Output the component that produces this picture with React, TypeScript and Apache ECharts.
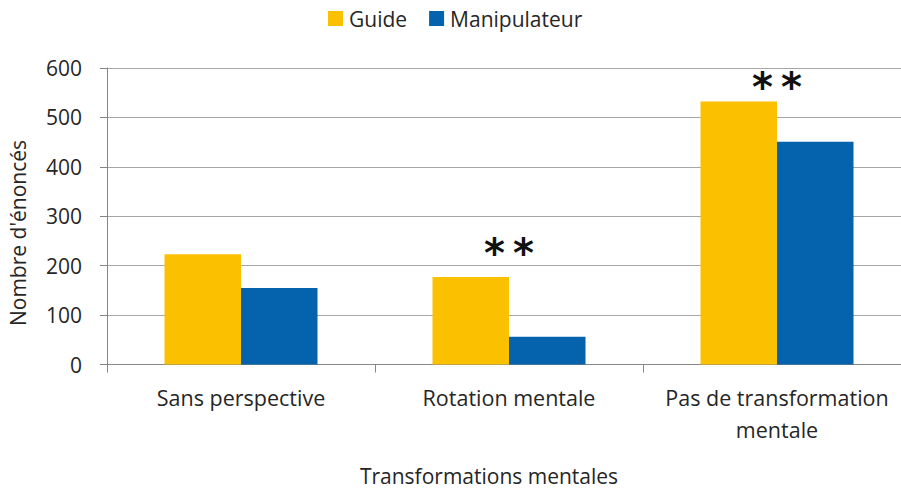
import React, { useEffect, useRef } from "react";
import * as echarts from "echarts";

const categories = ["Sans perspective", "Rotation mentale", "Pas de transformation\nmentale"];
const guideValues = [223, 177, 532];
const manipValues = [155, 56, 451];
const sigLabels = ["", "*\u2009*", "*\u2009*"];
const sigLevels = ["-", 225, 561];
const yTicks = [0, 100, 200, 300, 400, 500, 600];

const FONT = "Open Sans";
const TEXT = "#262626";

export default function App() {
  const ref = useRef<HTMLDivElement>(null);
  useEffect(() => {
    if (!ref.current) return;
    const chart = echarts.init(ref.current, undefined, { renderer: "svg" });
    chart.setOption({
      animation: false,
      textStyle: { fontFamily: FONT },
      legend: {
        data: ["Guide", "Manipulateur"],
        left: 323,
        top: 3,
        itemWidth: 15,
        itemHeight: 15,
        itemGap: 22,
        icon: "rect",
        textStyle: { fontFamily: FONT, fontSize: 21, color: TEXT, padding: [0, 0, 0, 1] },
      },
      grid: { left: 107, top: 68, width: 804, height: 296.5, containLabel: false },
      xAxis: {
        type: "category",
        data: categories,
        axisLine: { lineStyle: { color: "#868686", width: 1 } },
        axisTick: { show: true, length: 8, lineStyle: { color: "#868686" } },
        axisLabel: {
          fontFamily: FONT,
          fontSize: 21.5,
          color: TEXT,
          lineHeight: 32,
          margin: 17,
          interval: 0,
        },
      },
      yAxis: {
        type: "value",
        min: yTicks[0],
        max: yTicks[yTicks.length - 1],
        interval: 100,
        axisLine: { show: true, lineStyle: { color: "#868686", width: 1 } },
        axisTick: { show: true, length: 7, lineStyle: { color: "#868686" } },
        splitLine: { show: true, lineStyle: { color: "#A6A6A6", width: 1 } },
        axisLabel: { fontFamily: FONT, fontSize: 21, color: TEXT, margin: 25 },
      },
      series: [
        {
          name: "Guide",
          type: "bar",
          data: guideValues,
          barWidth: 76.5,
          barGap: "0%",
          itemStyle: { color: "#FBC000" },
        },
        {
          name: "Manipulateur",
          type: "bar",
          data: manipValues,
          barWidth: 76.5,
          barGap: "0%",
          itemStyle: { color: "#0563AE" },
        },
        {
          name: "sig",
          type: "scatter",
          data: sigLevels,
          symbolSize: 2,
          silent: true,
          z: 5,
          itemStyle: { color: "rgba(0,0,0,0)" },
          labelLayout: { hideOverlap: false },
          label: {
            show: true,
            position: "inside",
            formatter: (p: any) => sigLabels[p.dataIndex],
            fontFamily: "DejaVu Sans",
            fontWeight: "bold",
            fontSize: 40,
            color: "#111111",
            opacity: 1,
          },
        },
      ],
      graphic: [
        {
          type: "text",
          x: 18,
          y: 233,
          rotation: Math.PI / 2,
          style: {
            text: "Nombre d'énoncés",
            fontFamily: FONT,
            fontSize: 21,
            fill: TEXT,
            align: "center",
            verticalAlign: "middle",
          },
        },
        {
          type: "text",
          x: 489,
          y: 476,
          style: {
            text: "Transformations mentales",
            fontFamily: FONT,
            fontSize: 21,
            fill: TEXT,
            align: "center",
            verticalAlign: "middle",
          },
        },
      ],
    });
    return () => chart.dispose();
  }, []);
  return (
    <div
      ref={ref}
      style={{ position: "fixed", left: 0, top: 0, width: 920, height: 490, background: "#fff" }}
    />
  );
}
